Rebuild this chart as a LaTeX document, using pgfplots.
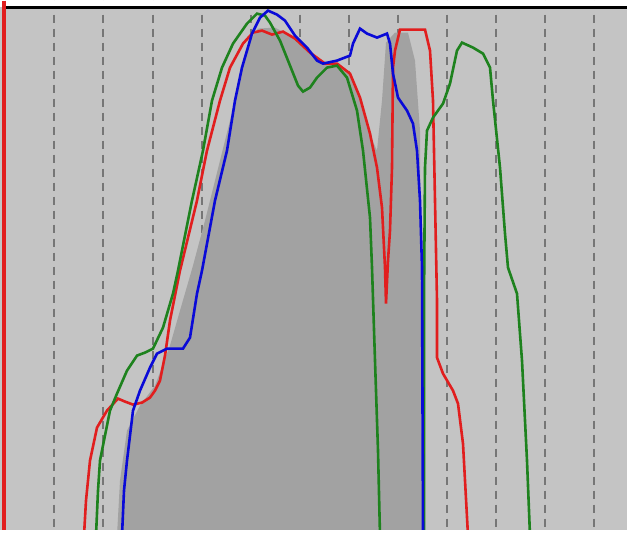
\documentclass[border=0pt]{standalone}
\usepackage{pgfplots}
\pgfplotsset{compat=1.18}
\definecolor{bgc}{RGB}{196,196,196}
\definecolor{lumc}{RGB}{162,162,162}
\definecolor{gridc}{RGB}{118,118,118}
\definecolor{rc}{RGB}{225,30,30}
\definecolor{gc}{RGB}{30,130,30}
\definecolor{bc}{RGB}{10,10,215}
\begin{document}
\begin{tikzpicture}
\begin{axis}[
  width=313.5pt, height=264.5pt, scale only axis,
  xmin=0, xmax=627, ymin=0, ymax=529, y dir=reverse,
  axis line style={draw=none},
  xtick={54,103,153,202,251,300,349,398,447,496,545,594},
  xticklabels={}, ytick=\empty, major tick length=0pt,
  xmajorgrids, major grid style={gridc, dash pattern=on 4pt off 3pt, line width=0.6pt},
  axis background/.style={fill=bgc},
  clip=true,
]
% luminance area
\addplot[fill=lumc, draw=none] coordinates {
(117,535) (120,480) (127,430) (140,405) (155,385) (170,345) (180,310)
(193,265) (205,220) (215,180) (225,140) (235,100) (243,65) (250,40)
(258,28) (275,27) (290,35) (305,45) (320,60) (340,65) (350,75)
(360,95) (368,130) (377,150) (382,100) (386,42) (395,32) (408,32)
(415,60) (420,130) (422,535)} -- cycle;
% red
\addplot[rc, line width=1.3pt] coordinates {
(84,535) (86,500) (90,460) (97,427) (107,410) (118,398) (125,401)
(133,404) (142,402) (150,397) (155,390) (160,380) (165,355) (170,320)
(180,270) (197,200) (207,150) (220,100) (230,67) (243,43) (253,32)
(262,30) (272,34) (283,31) (295,38) (310,52) (325,63) (337,63)
(350,73) (360,97) (370,133) (377,167) (382,207) (385,267) (386,303)
(388,260) (390,230) (392,167) (393,67) (395,50) (400,29) (413,29)
(425,29) (430,50) (433,100) (435,200) (437,300) (437,357) (443,373)
(453,390) (458,403) (463,443) (468,535)};
% green
\addplot[gc, line width=1.3pt] coordinates {
(96,535) (98,490) (100,460) (110,410) (117,393) (127,370) (137,355)
(145,352) (153,348) (163,327) (173,293) (178,270) (192,200) (203,150)
(212,100) (222,67) (233,43) (247,23) (257,13) (265,15) (270,22)
(280,40) (290,65) (298,85) (303,91) (310,87) (317,77) (327,67)
(337,65) (347,77) (357,110) (363,150) (370,217) (372,267) (375,360)
(378,450) (380,535)};
\addplot[gc, line width=1.3pt] coordinates {
(424,535) (424,300) (425,167) (427,130) (433,117) (443,103) (450,83)
(457,50) (462,42) (473,47) (483,53) (490,67) (493,100) (500,167)
(505,233) (508,267) (517,293) (522,360) (527,460) (530,535)};
% blue
\addplot[bc, line width=1.3pt] coordinates {
(122,535) (124,490) (127,460) (133,410) (140,390) (150,367) (157,353)
(167,348) (183,348) (190,337) (197,293) (202,270) (215,200) (227,150)
(235,100) (242,67) (252,33) (260,17) (268,10) (277,14) (285,20)
(295,35) (307,47) (317,60) (323,63) (337,60) (350,55) (353,43)
(360,28) (367,33) (377,37) (387,33) (390,43) (393,73) (398,97)
(407,110) (413,123) (417,150) (420,200) (422,267) (423,535)};
% frame
\fill[white] (axis cs:0,0) rectangle (axis cs:627,6);
\draw[black, line width=1.2pt] (axis cs:5,7) -- (axis cs:627,7);
\draw[rc, line width=2pt] (axis cs:4,0) -- (axis cs:4,529);
\end{axis}
\end{tikzpicture}
\end{document}
